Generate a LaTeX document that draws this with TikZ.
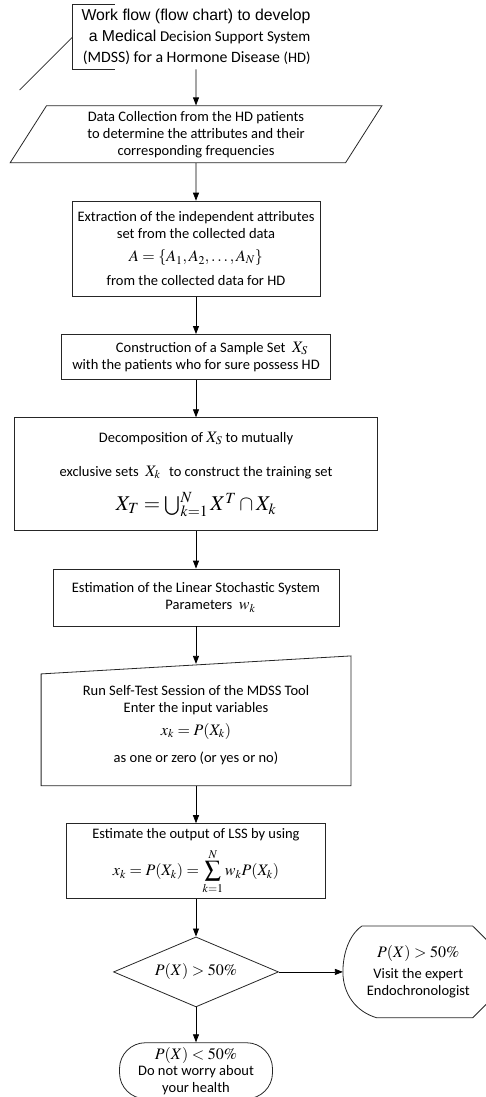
\documentclass[tikz,border=0pt]{standalone}
\usepackage{mathptmx}
\usepackage[no-math]{fontspec}
\setmainfont{Carlito}
\newfontfamily\arialfont{Liberation Sans}
\usetikzlibrary{arrows.meta,positioning,shapes.geometric}
\newcommand{\bigmath}[1]{{\fontsize{16}{18}\selectfont$#1$}}
\tikzset{
    %Define standard arrow tip
    >={Stealth[length=8pt,width=6pt,inset=0pt]},
    %Define style for boxes
    box/.style={
           rectangle,
           draw=black!85, line width=0.8pt,
           align=center,
           inner sep=2pt,
           font=\fontsize{14.5}{17}\selectfont},
    databox/.style={
           box,
           trapezium,
           trapezium left angle=62,
           trapezium right angle=118,
           trapezium stretches=true},
    plain/.style={
           box,
           draw=none},
    decision/.style={
           box,
           diamond,
           inner sep=0pt,
           aspect=2.36},
    terminal/.style={
           box,
           rounded corners=26pt},
    outline/.style={
           draw=black!85,
           line width=0.8pt},
    % Define arrow style
    flow/.style={
           ->,
           line width=0.8pt}
}

\begin{document}
\begin{tikzpicture}[node distance=37.5pt, auto,]
    \path[use as bounding box, clip] (0,0) rectangle (486pt,-1097pt);
 %nodes
    \node[plain, align=right, minimum width=246pt, minimum height=64pt, font=\fontsize{15.8}{21}\selectfont]
        (title) at (196pt,-37pt)
        {{\arialfont Work flow (flow chart) to develop}\\
         {\arialfont a Medical} {\fontsize{15}{21}\selectfont Decision Support System}\\
         {\fontsize{15.8}{21}\selectfont(MDSS) for a Hormone Disease} {\fontsize{14.5}{21}\selectfont(HD)}};
    \coordinate[below left=53pt and 53pt of title.west] (tail);
    \node[databox, minimum width=372pt, minimum height=57pt, below=36pt of title] (data)
        {Data Collection from the HD patients\\
         to determine the attributes and their\\
         corresponding frequencies};
    \node[box, minimum width=248pt, minimum height=95pt, below=of data] (extract)
        {Extraction of the independent attributes\\
         set from the collected data\\[6pt]
         \bigmath{A=\left\{A_1,A_2,\ldots,A_N\right\}}\\[7pt]
         from the collected data for HD};
    \node[box, minimum width=269pt, minimum height=45pt, below=of extract] (sample)
        {\hspace{2.2em}Construction of a Sample Set~~\bigmath{X_S}\\
         with the patients who for sure possess HD};
    \node[box, minimum width=363pt, minimum height=113pt, below=of sample] (decomp)
        {Decomposition of \bigmath{X_S} to mutually\\[17pt]
         exclusive sets~~\bigmath{X_k\,}~~to construct the training set\\[12pt]
         {\fontsize{21}{23}\selectfont$X_T=\bigcup_{k=1}^{N}X^T\cap X_k$}};
    \node[box, minimum width=286pt, minimum height=57pt, below=of decomp] (estim)
        {Estimation of the Linear Stochastic System\\
         \hspace{2em}Parameters~~\bigmath{w_k}};
    \node[plain, minimum width=309pt, minimum height=121pt, below=of estim] (run)
        {Run Self-Test Session of the MDSS Tool\\
         Enter the input variables\\[6pt]
         \bigmath{x_k=P(X_k)}\\[10pt]
         as one or zero (or yes or no)};
    \node[box, minimum width=259pt, minimum height=75pt, below=of run] (lss)
        {Estimate the output of LSS by using\\[7pt]
         \bigmath{x_k=P(X_k)=\displaystyle\sum_{k=1}^{N}w_kP(X_k)}};
    \node[decision, minimum width=165pt, minimum height=70pt, below=of lss] (decide)
        {\bigmath{P(X)>50\%}};
    \node[plain, minimum width=150pt, minimum height=91pt, right=64pt of decide] (visit)
        {\bigmath{P(X)>50\%}\\[4pt]
         Visit the expert\\
         Endochronologist};
    \node[terminal, minimum width=153pt, minimum height=56pt, below=35pt of decide,
          font=\fontsize{14.5}{16.5}\selectfont] (healthy)
        {\bigmath{P(X)<50\%}\\
         Do not worry about\\
         your health};
 %outlines
    \draw[outline] ([xshift=42pt]title.north west) -| (title.south west) -- ([xshift=42pt]title.south west);
    \draw[outline] (title.west) -- (tail);
    \draw[outline] (run.south west) -- (run.south east) -- ([yshift=8pt]run.north east)
        -- ([yshift=-10pt]run.north west) -- cycle;
    \draw[outline] ([xshift=-21pt]visit.north east) -- ([xshift=19pt]visit.north west)
        .. controls ([xshift=6pt,yshift=-9pt]visit.north west) and ([yshift=18pt]visit.west) .. (visit.west)
        .. controls ([yshift=-22pt]visit.west) and ([xshift=13pt,yshift=6pt]visit.south west) .. ([xshift=34pt]visit.south west)
        -- ([xshift=-21pt]visit.south east) -- ([xshift=25pt]visit.east) -- cycle;
 %edges
    \draw[flow] (title) -- (data);
    \draw[flow] (data) -- (extract);
    \draw[flow] (extract) -- (sample);
    \draw[flow] (sample) -- (decomp);
    \draw[flow] (decomp) -- (estim);
    \draw[flow] (estim) -- (run);
    \draw[flow] (run) -- (lss);
    \draw[flow] (lss) -- (decide);
    \draw[flow] (decide) -- (visit);
    \draw[flow] (decide) -- (healthy);
  \end{tikzpicture}
\end{document}
